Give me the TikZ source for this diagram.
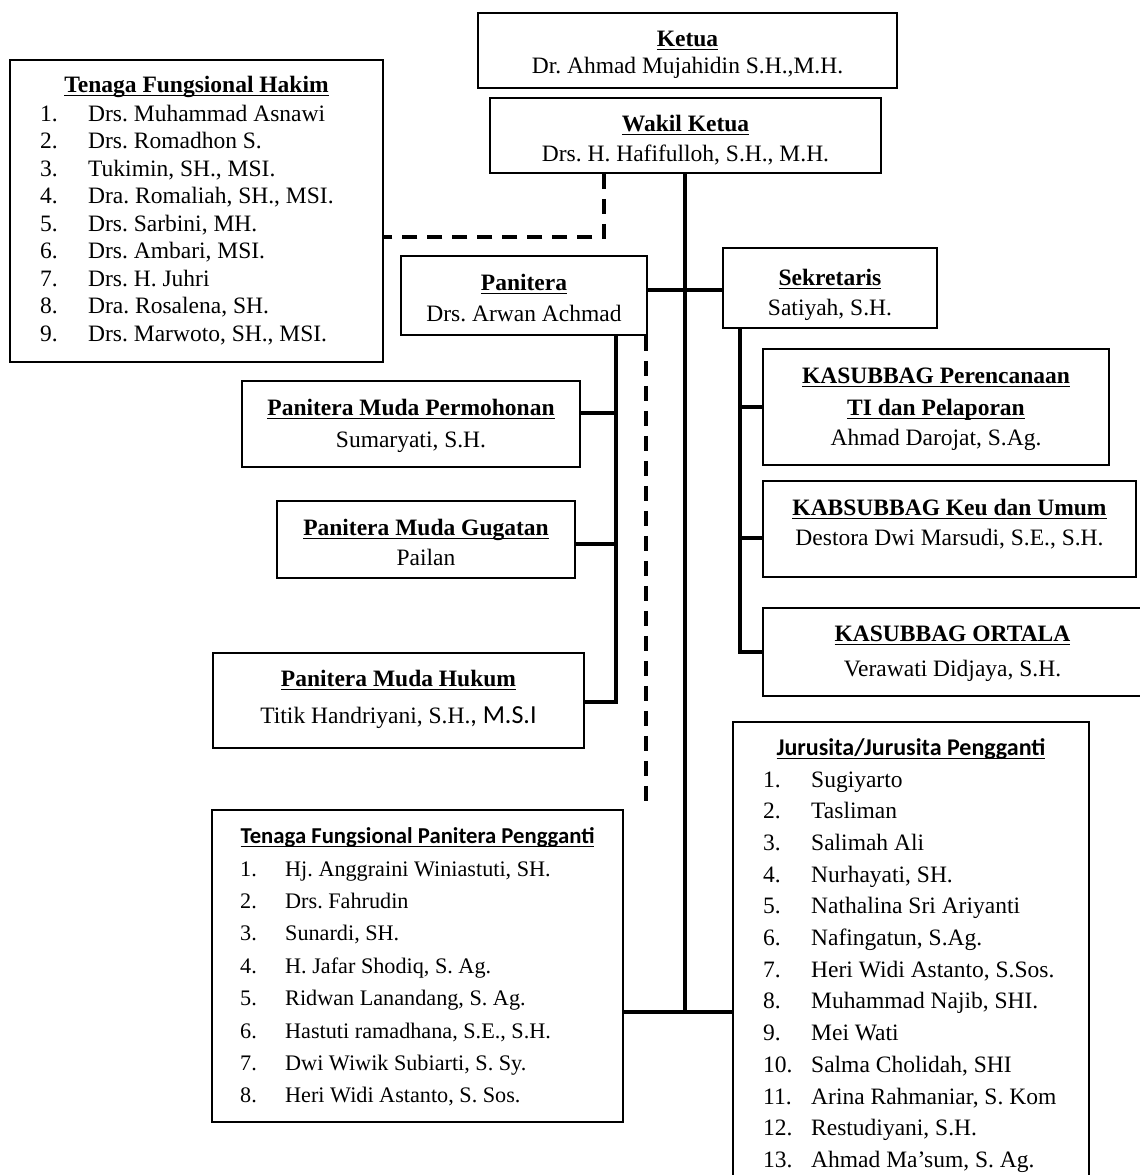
\documentclass[tikz,border=0pt]{standalone}
\usepackage{fontspec}
\setmainfont{Liberation Serif}
\newfontfamily\calib{Carlito}
\newsavebox\ulbox
\newcommand\ulx[1]{\sbox\ulbox{#1}\rlap{\rule[-4.3pt]{\wd\ulbox}{1.4pt}}\usebox\ulbox}
\begin{document}
\frenchspacing
\begin{tikzpicture}[x=1pt,y=-1pt,
  box/.style={draw,line width=1.5pt,inner sep=0pt,rectangle},
  conn/.style={line width=4pt},
  dconn/.style={line width=4pt,dash pattern=on 15pt off 10pt},
  txt/.style={anchor=base,inner sep=0pt,font=\fontsize{23.5}{28}\selectfont},
  hd/.style={anchor=base,inner sep=0pt,font=\fontsize{23.5}{28}\selectfont\bfseries},
  shd/.style={anchor=base,inner sep=0pt,font=\fontsize{22.7}{27}\selectfont\calib\bfseries},
  li/.style={anchor=base west,inner sep=0pt,font=\fontsize{23.5}{28}\selectfont},
  lis/.style={anchor=base west,inner sep=0pt,font=\fontsize{22.2}{27}\selectfont}]
\useasboundingbox (0,0) rectangle (1140,1175);
\clip (0,0) rectangle (1140,1175);

% boxes
\node[box,minimum width=419pt,minimum height=75pt] (ketua) at (687.5,50.5) {};
\node[box,minimum width=391pt,minimum height=75pt] (wakil) at (685.5,135.5) {};
\node[box,minimum width=373pt,minimum height=302pt] (hakim) at (196.5,211) {};
\node[box,minimum width=246pt,minimum height=79pt] (panitera) at (524,295.5) {};
\node[box,minimum width=214pt,minimum height=80pt] (sekretaris) at (830,288) {};
\node[box,minimum width=338pt,minimum height=86pt] (pmp) at (411,424) {};
\node[box,minimum width=298pt,minimum height=77pt] (pmg) at (426,539.5) {};
\node[box,minimum width=371pt,minimum height=95pt] (pmh) at (398.5,700.5) {};
\node[box,minimum width=346pt,minimum height=116pt] (kper) at (936,407) {};
\node[box,minimum width=373pt,minimum height=96pt] (kkeu) at (949.5,529) {};
\node[box,minimum width=379pt,minimum height=88pt] (kort) at (952.5,652) {};
\node[box,minimum width=411pt,minimum height=312pt] (pp) at (417.5,966) {};
\node[box,minimum width=356pt,minimum height=478pt] (juru) at (911,961) {};

% helper coordinates
\coordinate (tj) at (685,1012);
\coordinate (pj) at (647,290);
\coordinate (pv) at (616,702);
\coordinate (sv) at (740,652);
\coordinate (hd) at (604,237);
\coordinate (pd) at (646,805);

% connectors
\draw[conn] (wakil.south -| tj) -- (tj);
\draw[conn] (pp.east |- tj) -- (juru.west |- tj);
\draw[conn] (panitera.east |- pj) -- (sekretaris.west |- pj);
\draw[conn] (panitera.south -| pv) -- (pv) -- (pmh.east |- pv);
\draw[conn] (pmp.east |- 0,413) -- (pv |- 0,413);
\draw[conn] (pmg.east |- 0,544) -- (pv |- 0,544);
\draw[conn] (sekretaris.south -| sv) -- (sv) -- (kort.west |- sv);
\draw[conn] (kper.west) -- (sv |- kper.west);
\draw[conn] (kkeu.west |- 0,538) -- (sv |- 0,538);
\draw[dconn] (wakil.south -| hd) -- (hd) -- (hakim.east |- hd);
\draw[dconn] (panitera.south -| pd) -- (pd);

% texts
\node[hd] (ketuaH) at (687.5,46) {\ulx{Ketua}};
\node[txt] (ketuaN) at (687.5,73) {Dr. Ahmad Mujahidin S.H.,M.H.};
\node[hd] (wakilH) at (685.5,131) {\ulx{Wakil Ketua}};
\node[txt] (wakilN) at (685.5,161) {Drs. H. Hafifulloh, S.H., M.H.};
\node[hd] (paniteraH) at (524,290) {\ulx{Panitera}};
\node[txt] (paniteraN) at (524,321) {Drs. Arwan Achmad};
\node[hd] (sekretarisH) at (830,285) {\ulx{Sekretaris}};
\node[txt] (sekretarisN) at (830,315) {Satiyah, S.H.};
\node[hd] (pmpH) at (411,415) {\ulx{Panitera Muda Permohonan}};
\node[txt] (pmpN) at (411,447) {Sumaryati, S.H.};
\node[hd] (pmgH) at (426,535) {\ulx{Panitera Muda Gugatan}};
\node[txt] (pmgN) at (426,565) {Pailan};
\node[hd] (pmhH) at (398.5,686) {\ulx{Panitera Muda Hukum}};
\node[txt] (pmhN) at (398.5,723) {Titik Handriyani, S.H.{\calib\fontsize{26}{30}\selectfont, M.S.I}};
\node[hd] (kperH1) at (936,383) {\ulx{KASUBBAG Perencanaan}};
\node[hd] (kperH2) at (936,415) {\ulx{TI dan Pelaporan}};
\node[txt] (kperN) at (936,445) {Ahmad Darojat, S.Ag.};
\node[hd] (kkeuH) at (949.5,515) {\ulx{KABSUBBAG Keu dan Umum}};
\node[txt] (kkeuN) at (949.5,545) {Destora Dwi Marsudi, S.E., S.H.};
\node[hd] (kortH) at (952.5,641) {\ulx{KASUBBAG ORTALA}};
\node[txt] (kortN) at (952.5,676) {Verawati Didjaya, S.H.};

% Hakim list
\node[hd] (hakimH) at (196.5,92) {\ulx{Tenaga Fungsional Hakim}};
\foreach \t [count=\i] in {Drs. Muhammad Asnawi, Drs. Romadhon S., {Tukimin, SH., MSI.}, {Dra. Romaliah, SH., MSI.}, {Drs. Sarbini, MH.}, {Drs. Ambari, MSI.}, Drs. H. Juhri, {Dra. Rosalena, SH.}, {Drs. Marwoto, SH., MSI.}}{
  \node[li] (hakimNo\i) at (40,{121+27.5*(\i-1)}) {\i.};
  \node[li] (hakimIt\i) at (88,{121+27.5*(\i-1)}) {\t};
}

% Panitera Pengganti list
\node[shd] (ppH) at (417.5,843) {\ulx{Tenaga Fungsional Panitera Pengganti}};
\foreach \t [count=\i] in {{Hj. Anggraini Winiastuti, SH.}, Drs. Fahrudin, {Sunardi, SH.}, {H. Jafar Shodiq, S. Ag.}, {Ridwan Lanandang, S. Ag.}, {Hastuti ramadhana, S.E., S.H.}, {Dwi Wiwik Subiarti, S. Sy.}, {Heri Widi Astanto, S. Sos.}}{
  \node[lis] (ppNo\i) at (240,{876+32.4*(\i-1)}) {\i.};
  \node[lis] (ppIt\i) at (285,{876+32.4*(\i-1)}) {\t};
}

% Jurusita list
\node[shd,font=\fontsize{24}{28}\selectfont\calib\bfseries] (juruH) at (911,755) {\ulx{Jurusita/Jurusita Pengganti}};
\foreach \t [count=\i] in {Sugiyarto, Tasliman, Salimah Ali, {Nurhayati, SH.}, Nathalina Sri Ariyanti, {Nafingatun, S.Ag.}, {Heri Widi Astanto, S.Sos.}, {Muhammad Najib, SHI.}, Mei Wati, {Salma Cholidah, SHI}, {Arina Rahmaniar, S. Kom}, {Restudiyani, S.H.}, {Ahmad Ma’sum, S. Ag.}}{
  \node[li] (juruNo\i) at (763,{787+31.7*(\i-1)}) {\i.};
  \node[li] (juruIt\i) at (811,{787+31.7*(\i-1)}) {\t};
}
\end{tikzpicture}
\end{document}
